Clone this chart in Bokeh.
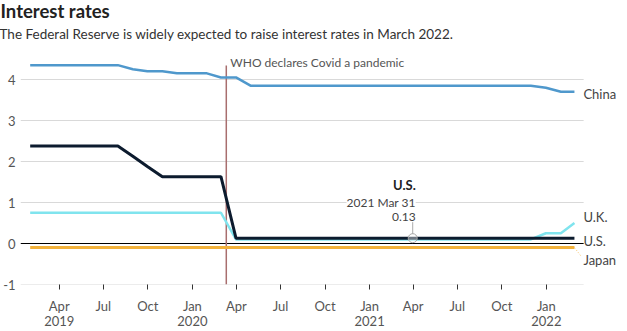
from datetime import datetime
import calendar
from bokeh.plotting import figure
from bokeh.models import Range1d, FixedTicker, Label, Title
from bokeh.embed import file_html
from bokeh.resources import INLINE

# ---------------- data ----------------
months = [(2019, m) for m in range(1, 13)] + [(2020, m) for m in range(1, 13)] + \
         [(2021, m) for m in range(1, 13)] + [(2022, 1), (2022, 2)]

china = [4.35, 4.35, 4.35, 4.35, 4.35, 4.35, 4.35, 4.25, 4.20, 4.20, 4.15, 4.15,
         4.15, 4.05, 4.05, 3.85, 3.85, 3.85, 3.85, 3.85, 3.85, 3.85, 3.85, 3.85,
         3.85, 3.85, 3.85, 3.85, 3.85, 3.85, 3.85, 3.85, 3.85, 3.85, 3.85, 3.80,
         3.70, 3.70]
us = [2.38, 2.38, 2.38, 2.38, 2.38, 2.38, 2.38, 2.13, 1.88, 1.63, 1.63, 1.63,
      1.63, 1.63, 0.13, 0.13, 0.13, 0.13, 0.13, 0.13, 0.13, 0.13, 0.13, 0.13,
      0.13, 0.13, 0.13, 0.13, 0.13, 0.13, 0.13, 0.13, 0.13, 0.13, 0.13, 0.13,
      0.13, 0.13]
uk = [0.75, 0.75, 0.75, 0.75, 0.75, 0.75, 0.75, 0.75, 0.75, 0.75, 0.75, 0.75,
      0.75, 0.75, 0.10, 0.10, 0.10, 0.10, 0.10, 0.10, 0.10, 0.10, 0.10, 0.10,
      0.10, 0.10, 0.10, 0.10, 0.10, 0.10, 0.10, 0.10, 0.10, 0.10, 0.10, 0.25,
      0.25, 0.50]
japan = [-0.10] * 38

y_ticks = [-1, 0, 1, 2, 3, 4]
y_tick_labels = ["-1", "0", "1", "2", "3", "4"]
x_tick_dates = [(2019, 4), (2019, 7), (2019, 10), (2020, 1), (2020, 4), (2020, 7),
                (2020, 10), (2021, 1), (2021, 4), (2021, 7), (2021, 10), (2022, 1)]
x_tick_labels = ["Apr\n2019", "Jul", "Oct", "Jan\n2020", "Apr", "Jul", "Oct",
                 "Jan\n2021", "Apr", "Jul", "Oct", "Jan\n2022"]

who_date = (2020, 3, 11)
annot_date = (2021, 3, 31)
annot_value = 0.13

title_text = "Interest rates"
subtitle_text = "The Federal Reserve is widely expected to raise interest rates in March 2022."

# ---------------- helpers ----------------
def ms(y, m, d):
    return (datetime(y, m, d) - datetime(1970, 1, 1)).total_seconds() * 1000.0

x = [ms(y, m, calendar.monthrange(y, m)[1]) for (y, m) in months]

W, H = 627, 331
LEFT, TOP, BOTTOM = 18, 55, 47
GRID_RIGHT = 583                      # pixel where grid lines stop
FW, FH = W - LEFT, H - TOP - BOTTOM
MS_PER_PX = (ms(2022, 3, 19) - ms(2019, 1, 11)) / 565.0
PX_PER_UNIT = 41.0
x_start = ms(2019, 1, 11)
x_end = x_start + FW * MS_PER_PX
y_start = -1.0
y_end = y_start + FH / PX_PER_UNIT

def px_x(dx):
    return dx * MS_PER_PX

def px_y(dy):
    return dy / PX_PER_UNIT

def data_x(px):
    return x_start + px_x(px - LEFT)

def data_y(py):
    return y_start + px_y(TOP + FH - py)

FONT = "Lato"

p = figure(width=W, height=H, output_backend="svg", toolbar_location=None,
           x_range=Range1d(x_start, x_end), y_range=Range1d(y_start, y_end),
           min_border_left=LEFT, min_border_right=0, min_border_top=TOP,
           min_border_bottom=BOTTOM, title=None)
p.outline_line_color = None
p.background_fill_color = "white"
p.border_fill_color = "white"
p.xgrid.grid_line_color = None
p.ygrid.grid_line_color = None

# titles (subtitle nearest the frame)
p.add_layout(Title(text=subtitle_text, align="left", offset=-21, text_font=FONT,
                   text_font_size="13.5px", text_font_style="normal",
                   text_color="#333333", standoff=27), "above")
p.add_layout(Title(text=title_text, align="left", offset=-20, text_font=FONT,
                   text_font_size="18.5px", text_font_style="bold",
                   text_color="#222222", standoff=-23), "above")

# axes
p.yaxis.ticker = FixedTicker(ticks=y_ticks)
p.yaxis.major_label_overrides = {t: l for t, l in zip(y_ticks, y_tick_labels)}
p.yaxis.axis_line_color = None
p.yaxis.major_tick_line_color = None
p.yaxis.minor_tick_line_color = None
p.yaxis.major_tick_out = 0
p.yaxis.major_tick_in = 0
p.yaxis.major_label_standoff = 5
p.yaxis.major_label_text_font = FONT
p.yaxis.major_label_text_font_size = "13px"
p.yaxis.major_label_text_color = "#555555"

xt = [ms(y, m, 1) for (y, m) in x_tick_dates]
p.xaxis.ticker = FixedTicker(ticks=xt)
p.xaxis.major_label_overrides = {t: l for t, l in zip(xt, x_tick_labels)}
p.xaxis.axis_line_color = None
p.xaxis.minor_tick_line_color = None
p.xaxis.major_tick_line_color = "#333333"
p.xaxis.major_tick_out = 5
p.xaxis.major_tick_in = 0
p.xaxis.major_label_standoff = 8
p.xaxis.major_label_text_font = FONT
p.xaxis.major_label_text_font_size = "13px"
p.xaxis.major_label_text_color = "#555555"
p.xaxis.major_label_text_line_height = 0.95

# grid lines (stop short of the right-hand labels) and the zero line
gx1 = data_x(GRID_RIGHT)
grid_vals = [t for t in y_ticks if t != 0]
p.segment(x0=[x_start] * len(grid_vals), y0=grid_vals, x1=[gx1] * len(grid_vals),
          y1=grid_vals, line_color="#d9d9d9", line_width=1)
p.segment(x0=[x_start], y0=[0], x1=[gx1], y1=[0], line_color="black", line_width=1)

# WHO line
wx = ms(*who_date)
p.segment(x0=[wx], y0=[y_start], x1=[wx], y1=[data_y(65)], line_color="#a86e6e",
          line_width=1.5)
p.add_layout(Label(x=wx, y=data_y(62), x_offset=4, text="WHO declares Covid a pandemic",
                   text_font=FONT, text_font_size="12px", text_color="#555555",
                   text_baseline="middle", text_align="left"))

# series
p.line(x, japan, line_color="#f3b23b", line_width=3)
p.line(x, uk, line_color="#80e4ee", line_width=2.5)
p.line(x, us, line_color="#0c1b2e", line_width=3)
p.line(x, china, line_color="#4f98cc", line_width=2.5)

# japan leader
p.segment(x0=[x[-1]], y0=[japan[-1]], x1=[x[-1] + px_x(7)], y1=[japan[-1] - px_y(9)],
          line_color="#f3b23b", line_width=1, line_dash="1 2", line_alpha=0.8)

# end labels
lab_x = x[-1] + px_x(9)
for txt, yv, dy in [("China", china[-1], -2), ("U.K.", uk[-1], 6),
                    ("U.S.", us[-1], -3), ("Japan", japan[-1], -12)]:
    p.add_layout(Label(x=lab_x, y=yv, y_offset=dy, text=txt, text_font=FONT,
                       text_font_size="13px", text_color="#444444",
                       text_baseline="middle", text_align="left"))

# annotation
ax = ms(*annot_date)
p.segment(x0=[ax], y0=[annot_value + px_y(4)], x1=[ax], y1=[annot_value + px_y(16)],
          line_color="#aaaaaa", line_width=1)
p.scatter([ax], [annot_value], size=9, marker="circle", fill_color="white",
          fill_alpha=0.4, line_color="#aaaaaa", line_width=1)
p.add_layout(Label(x=ax, y=annot_value, x_offset=3, y_offset=53, text="U.S.",
                   text_font=FONT, text_font_style="bold", text_font_size="13px",
                   text_color="#222222", text_baseline="middle", text_align="right"))
p.add_layout(Label(x=ax, y=annot_value, x_offset=3, y_offset=36, text="2021 Mar 31",
                   text_font=FONT, text_font_size="12px", text_color="#444444",
                   text_baseline="middle", text_align="right",
                   background_fill_color="white"))
p.add_layout(Label(x=ax, y=annot_value, x_offset=3, y_offset=21,
                   text=f"{annot_value:.2f}", text_font=FONT, text_font_size="12px",
                   text_color="#444444", text_baseline="middle", text_align="right"))

open("out.html", "w").write(file_html(p, INLINE))
